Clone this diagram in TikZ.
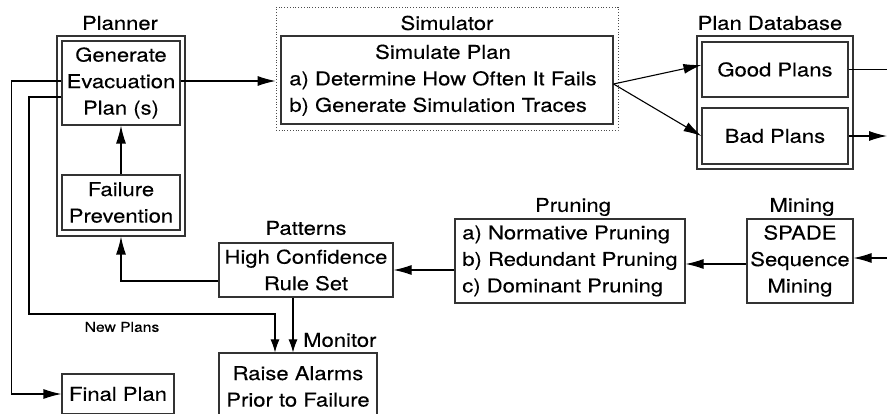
\documentclass[tikz,border=0pt]{standalone}
\usepackage{fontspec}
\setmainfont{TeX Gyre Heros}[FakeStretch=1.16,FakeBold=0.2]
\usetikzlibrary{arrows.meta}

\begin{document}
\begin{tikzpicture}[x=1pt, y=-1pt, >={Latex[length=18pt,width=10pt]},
  font=\fontsize{19}{26.5}\selectfont,
  box/.style={draw=black!80, line width=1.1pt, inner sep=0pt, align=center},
  arr/.style={->, line width=1.1pt},
  shortarr/.style={-{Latex[length=13pt,width=9pt]}, line width=1.1pt},
  lbl/.style={inner sep=0pt}]

\useasboundingbox (0,0) rectangle (887,414);
\clip (0,0) rectangle (887,414);
\coordinate (rim) at (887,0);

\node[box, minimum width=128pt, minimum height=200pt] (plnr) at (121,136) {};
\node[lbl] (plnrlbl) at (120,23) {Planner};
\node[box, minimum width=118pt, minimum height=84pt] (gen) at (121,83) {Generate\\ Evacuation\\ Plan (s)};
\node[box, minimum width=118pt, minimum height=55pt] (fail) at (121,202.5) {Failure\\ Prevention};
\draw[arr] (fail) -- (gen);

\node[draw=black!70, dotted, line width=0.8pt, minimum width=342pt, minimum height=123pt] (simr) at (447,68.5) {};
\node[lbl] (simlbl) at (447,23) {Simulator};
\node[box, minimum width=332pt, minimum height=88pt] (sim) at (447,80)
  {\begin{tabular}{@{}l@{\hspace{8pt}}}\multicolumn{1}{@{}c@{\hspace{8pt}}}{Simulate Plan}\\ a) Determine How Often It Fails\\ b) Generate Simulation Traces\end{tabular}};
\draw[arr] ([yshift=2pt]gen.east) -- ([yshift=2pt]gen.east -| simr.west);

\node[box, minimum width=156pt, minimum height=133pt] (db) at (775,102.5) {};
\node[lbl] (dblbl) at (770,23) {Plan Database};
\node[box, minimum width=146pt, minimum height=55pt] (good) at (775,69.5) {Good Plans};
\node[box, minimum width=146pt, minimum height=56pt] (bad) at (775,136) {Bad Plans};
\draw[arr] ([yshift=-4pt]sim.east) -- ([yshift=4.5pt]good.west);
\draw[arr] ([yshift=-4pt]sim.east) -- (bad.west);
\draw[line width=1.1pt] (good.east) -- (good.east -| rim);
\draw[arr] (bad.east) -- (bad.east -| rim);

\node[box, minimum width=106pt, minimum height=84pt] (mine) at (800,261) {SPADE\\ Sequence\\ Mining};
\node[lbl] (minelbl) at (802,207) {Mining};
\draw[arr] ([yshift=3pt]mine.east -| rim) -- ([yshift=3pt]mine.east);

\node[box, minimum width=230pt, minimum height=84pt, align=left] (prune) at (570,261) {a) Normative Pruning\\ b) Redundant Pruning\\ c) Dominant Pruning};
\node[lbl] (prunelbl) at (573,207) {Pruning};
\draw[arr] ([yshift=-3pt]mine.west) -- ([yshift=-3pt]prune.east);

\node[box, minimum width=174pt, minimum height=54pt] (pat) at (306,270) {High Confidence\\ Rule Set};
\node[lbl] (patlbl) at (306,228) {Patterns};
\draw[arr] (pat.east -| prune.west) -- (pat.east);
\draw[arr] ([yshift=-11pt]pat.west) -| (plnr.south);

\node[box, minimum width=158pt, minimum height=67pt] (mon) at (298,386.5) {Raise Alarms\\ Prior to Failure};
\node[lbl, anchor=west] (monlbl) at (303,340) {Monitor};
\draw[shortarr] ([xshift=-13pt]pat.south) -- ([xshift=-13pt]pat.south |- mon.north);

\node[box, minimum width=112pt, minimum height=40pt] (final) at (118,394) {Final Plan};
\draw[arr] ([yshift=2pt]gen.west) -- ++(-50,0) |- (final.west);

\coordinate (npl) at (29,314);
\coordinate (npr) at (275,314);
\draw[shortarr] ([yshift=-14pt]gen.west) -| (npl) -- (npr) -- (npr |- mon.north);
\node[lbl, font=\fontsize{13.5}{16}\selectfont] (nplbl) at (122,327) {New Plans};
\end{tikzpicture}
\end{document}
